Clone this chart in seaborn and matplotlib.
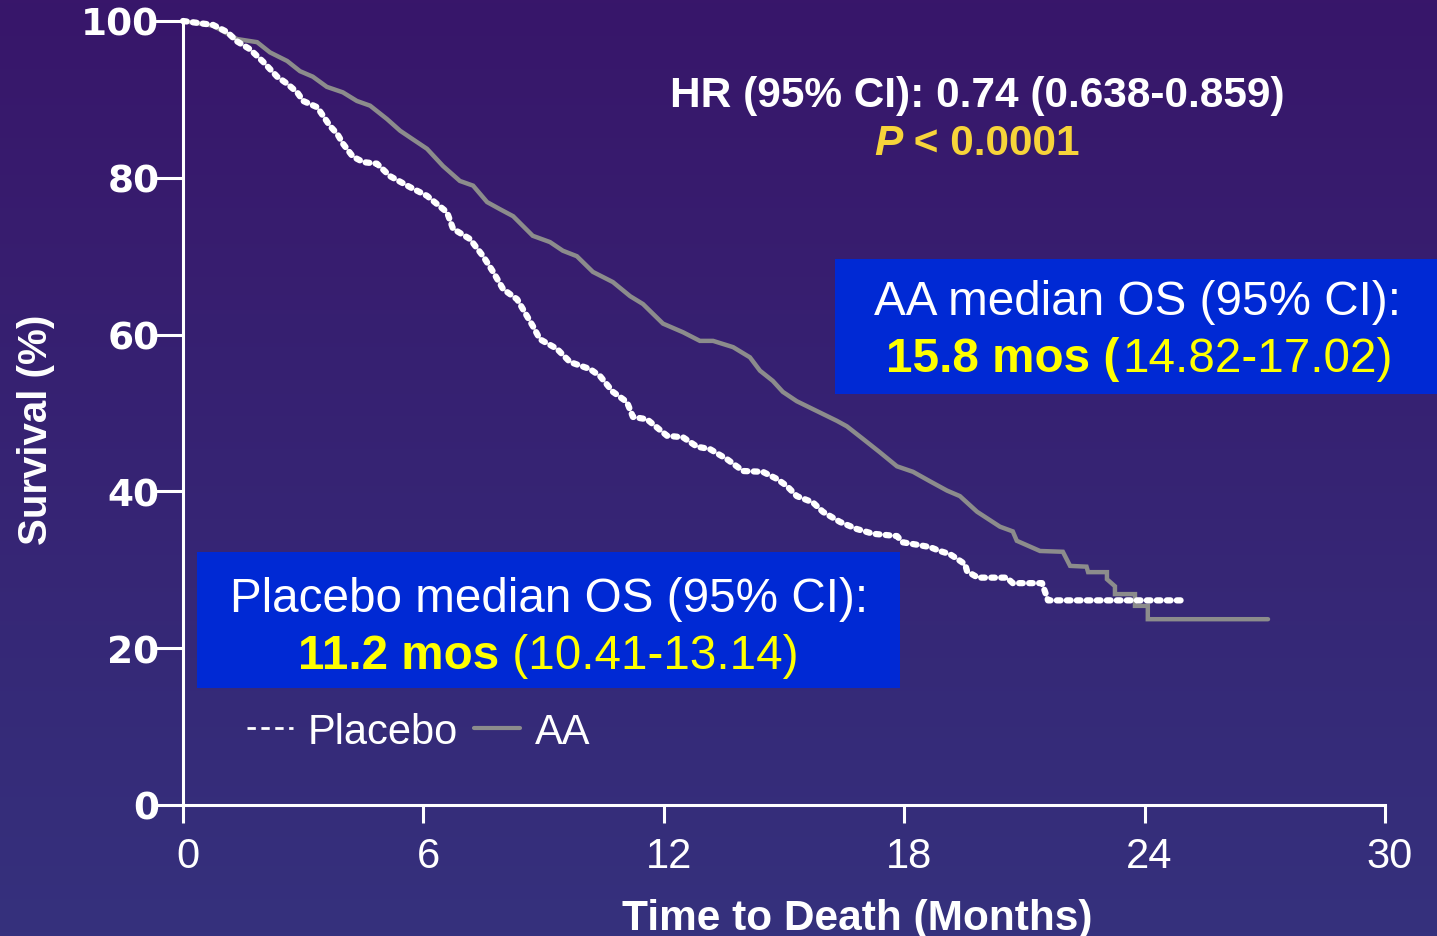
import numpy as np
import pandas as pd
import matplotlib
matplotlib.use("Agg")
import matplotlib.pyplot as plt
import matplotlib.transforms as mtransforms
from matplotlib.lines import Line2D
from matplotlib.patches import Rectangle
import seaborn as sns

# ---- data ----
aa_time = [0, 0.75, 1.35, 1.85, 2.17, 2.6, 2.92, 3.24, 3.59, 3.99, 4.34, 4.67, 5.09, 5.42,
           5.74, 6.09, 6.49, 6.91, 7.24, 7.59, 7.91, 8.24, 8.73, 9.16, 9.48, 9.83, 10.23,
           10.73, 11.16, 11.48, 11.98, 12.48, 12.9, 13.23, 13.73, 14.15, 14.4, 14.72, 14.97, 15.32,
           15.72, 16.32, 16.57, 16.97, 17.39, 17.82, 18.22, 18.64, 19.07, 19.39, 19.82,
           20.39, 20.71, 20.81, 21.39, 21.96, 22.14, 22.55, 22.59, 23.06, 23.06, 23.26, 23.26,
           23.76, 23.76, 24.08, 24.08, 27.08]
aa_surv = [100, 99.4, 97.7, 97.3, 96.0, 94.9, 93.6, 92.9, 91.6, 90.9, 89.8, 89.2, 87.5, 86.0,
           84.9, 83.7, 81.5, 79.6, 79.0, 76.9, 76.0, 75.1, 72.6, 71.8, 70.7, 70.0, 68.0,
           66.7, 64.9, 63.9, 61.4, 60.3, 59.2, 59.2, 58.4, 57.1, 55.4, 54.1, 52.7, 51.5,
           50.5, 49.0, 48.3, 46.7, 45.0, 43.2, 42.5, 41.3, 40.1, 39.4, 37.4,
           35.5, 34.9, 33.7, 32.4, 32.3, 30.5, 30.4, 29.7, 29.7, 28.8, 27.9, 26.9,
           26.9, 25.4, 25.4, 23.7, 23.7]

pl_time = [0, 0.75, 1.1, 1.35, 1.67, 2.0, 2.35, 2.6, 2.85, 3.0, 3.35, 3.67, 3.85, 4.0, 4.24,
           4.5, 4.84, 5.17, 5.67, 6.09, 6.59, 6.74, 7.16, 7.49, 7.74, 7.99, 8.34, 8.73, 8.91,
           9.33, 9.66, 10.16, 10.41, 10.73, 11.08, 11.23, 11.58, 12.08, 12.48, 12.83, 13.15,
           13.58, 13.98, 14.47, 14.82, 15.07, 15.32, 15.72, 15.97, 16.40, 16.82, 17.22, 17.82,
           17.97, 18.32, 18.64, 18.89, 19.14, 19.32, 19.52, 19.57, 19.84, 20.56, 20.71, 21.44,
           21.59, 24.96]
pl_surv = [100, 99.5, 98.6, 97.4, 96.4, 94.8, 92.9, 92.0, 90.9, 89.8, 89.0, 86.6, 85.6, 84.3, 82.7,
           82.0, 81.8, 80.2, 78.8, 77.7, 75.6, 73.5, 72.2, 70.0, 68.0, 65.8, 64.5, 61.1, 59.4,
           58.2, 56.5, 55.6, 54.7, 52.7, 51.4, 49.5, 49.2, 47.1, 46.9, 45.7, 45.4,
           44.1, 42.6, 42.5, 41.6, 40.7, 39.4, 38.6, 37.4, 36.1, 35.2, 34.6, 34.3,
           33.5, 33.2, 32.9, 32.4, 32.0, 31.4, 30.7, 29.8, 29.0, 29.0, 28.3, 28.3,
           26.1, 26.1]

x_ticks = [0, 6, 12, 18, 24, 30]
y_ticks = [0, 20, 40, 60, 80, 100]

hr_text = "HR (95% CI): 0.74 (0.638-0.859)"
p_label = "P"
p_value = " < 0.0001"
aa_box_line1 = "AA median OS (95% CI):"
aa_box_bold = "15.8 mos ("
aa_box_ci = "14.82-17.02)"
pl_box_line1 = "Placebo median OS (95% CI):"
pl_box_bold = "11.2 mos"
pl_box_ci = " (10.41-13.14)"

# ---- style ----
sns.set_theme(style="white")
plt.rcParams['font.family'] = ['Liberation Sans', 'DejaVu Sans']

W, H = 1437, 937
fig = plt.figure(figsize=(W / 100, H / 100), dpi=100)

def fx(px):
    return px / W

def fy(py):
    return (H - py) / H

# gradient background
bg = fig.add_axes([0, 0, 1, 1], zorder=-10)
top = np.array([56, 22, 106]) / 255
bot = np.array([53, 49, 125]) / 255
g = np.linspace(0, 1, 256)[:, None]
grad = top[None, None, :] * (1 - g[..., None]) + bot[None, None, :] * g[..., None]
grad = np.repeat(grad, 2, axis=1)
bg.imshow(grad, aspect='auto', extent=[0, 1, 0, 1])
bg.set_axis_off()

ax = fig.add_axes([fx(183), fy(806), fx(1385) - fx(183), fy(22) - fy(806)])
ax.set_facecolor('none')

df_aa = pd.DataFrame({"time": aa_time, "survival": aa_surv, "arm": "AA"})
df_pl = pd.DataFrame({"time": pl_time, "survival": pl_surv, "arm": "Placebo"})

sns.lineplot(data=df_aa, x="time", y="survival", color="#8c8c8c", linewidth=3.2,
             estimator=None, sort=False, ax=ax, legend=False)
line_aa = ax.lines[-1]
sns.lineplot(data=df_pl, x="time", y="survival", color="white", linewidth=4.5,
             estimator=None, sort=False, ax=ax, legend=False)
line_pl = ax.lines[-1]
line_pl.set_linestyle((0, (0.6, 1.0)))
line_pl.set_dash_capstyle('round')
line_pl.set_zorder(3)
for ln in (line_aa, line_pl):
    ln.set_clip_on(False)
    ln.set_solid_joinstyle('miter')

ax.set_xlim(0, 30)
ax.set_ylim(0, 100)
ax.set_xticks(x_ticks)
ax.set_yticks(y_ticks)
ax.set_xticklabels([str(v) for v in x_ticks], fontsize=30, color='white')
ax.set_yticklabels([str(v) for v in y_ticks], fontsize=27, color='white',
                   fontweight='bold', family='DejaVu Sans')
for s in ['top', 'right']:
    ax.spines[s].set_visible(False)
for s in ['left', 'bottom']:
    ax.spines[s].set_color('white')
    ax.spines[s].set_linewidth(2.2)
ax.tick_params(axis='y', direction='out', length=21, width=2.2, colors='white', pad=-4, left=True)
ax.tick_params(axis='x', direction='out', length=13, width=2.2, colors='white', pad=9, bottom=True)
shift = mtransforms.ScaledTranslation(5 / 100, 0, fig.dpi_scale_trans)
for lab in ax.get_xticklabels():
    lab.set_transform(lab.get_transform() + shift)

ax.set_xlabel("Time to Death (Months)", fontsize=30.5, fontweight='bold', color='white')
ax.xaxis.label.set_va('baseline')
ax.xaxis.set_label_coords((857 - 183) / 1202, (806 - 930) / 784)
ax.set_ylabel("Survival (%)", fontsize=29, fontweight='bold', color='white')
ax.yaxis.label.set_va('center')
ax.yaxis.set_label_coords((36 - 183) / 1202, (806 - 430) / 784)

# boxes
blue = '#0029d4'
fig.patches.append(Rectangle((fx(835), fy(395)), fx(1437) - fx(835), fy(260) - fy(395),
                             transform=fig.transFigure, facecolor=blue, edgecolor='none', zorder=1))
fig.patches.append(Rectangle((fx(197), fy(689)), fx(900) - fx(197), fy(553) - fy(689),
                             transform=fig.transFigure, facecolor=blue, edgecolor='none', zorder=1))

# HR / P text
fig.text(fx(977), fy(107), hr_text, ha='center', va='baseline', fontsize=30.5,
         fontweight='bold', color='white', zorder=5)
gold = '#f7d43a'
tp = fig.text(fx(874), fy(155), p_label, ha='left', va='baseline', fontsize=30.5,
              fontweight='bold', style='italic', color=gold, zorder=5)

fig.text(fx(1137), fy(315), aa_box_line1, ha='center', va='baseline', fontsize=34.3, color='white', zorder=5)
t1 = fig.text(fx(886), fy(372), aa_box_bold, ha='left', va='baseline', fontsize=34.3,
              fontweight='bold', color='#ffff00', zorder=5)
fig.text(fx(549), fy(612), pl_box_line1, ha='center', va='baseline', fontsize=34.3, color='white', zorder=5)
t2 = fig.text(fx(298), fy(669), pl_box_bold, ha='left', va='baseline', fontsize=34.3,
              fontweight='bold', color='#ffff00', zorder=5)

fig.canvas.draw()
renderer = fig.canvas.get_renderer()
def after(t):
    bb = t.get_window_extent(renderer)
    return bb.x1 / fig.bbox.width

fig.text(after(tp), fy(155), p_value, ha='left', va='baseline', fontsize=30.5,
         fontweight='bold', color=gold, zorder=5)
fig.text(after(t1) + 3 / W, fy(372), aa_box_ci, ha='left', va='baseline', fontsize=34.3,
         color='#ffff00', zorder=5)
fig.text(after(t2), fy(669), pl_box_ci, ha='left', va='baseline', fontsize=34.3,
         color='#ffff00', zorder=5)

# legend
handles = [Line2D([], [], color='white', linewidth=2.0, linestyle=(0, (3, 2))),
           Line2D([], [], color='#8c8c8c', linewidth=3.0)]
leg = ax.legend(handles, ["Placebo", "AA"], loc='center left',
                bbox_to_anchor=(fx(247), fy(733)), bbox_transform=fig.transFigure,
                ncol=2, frameon=False, fontsize=30, handlelength=1.1, handletextpad=0.35,
                columnspacing=0.4, borderpad=0, borderaxespad=0, labelcolor='white')

fig.savefig("out.png", dpi=100)
